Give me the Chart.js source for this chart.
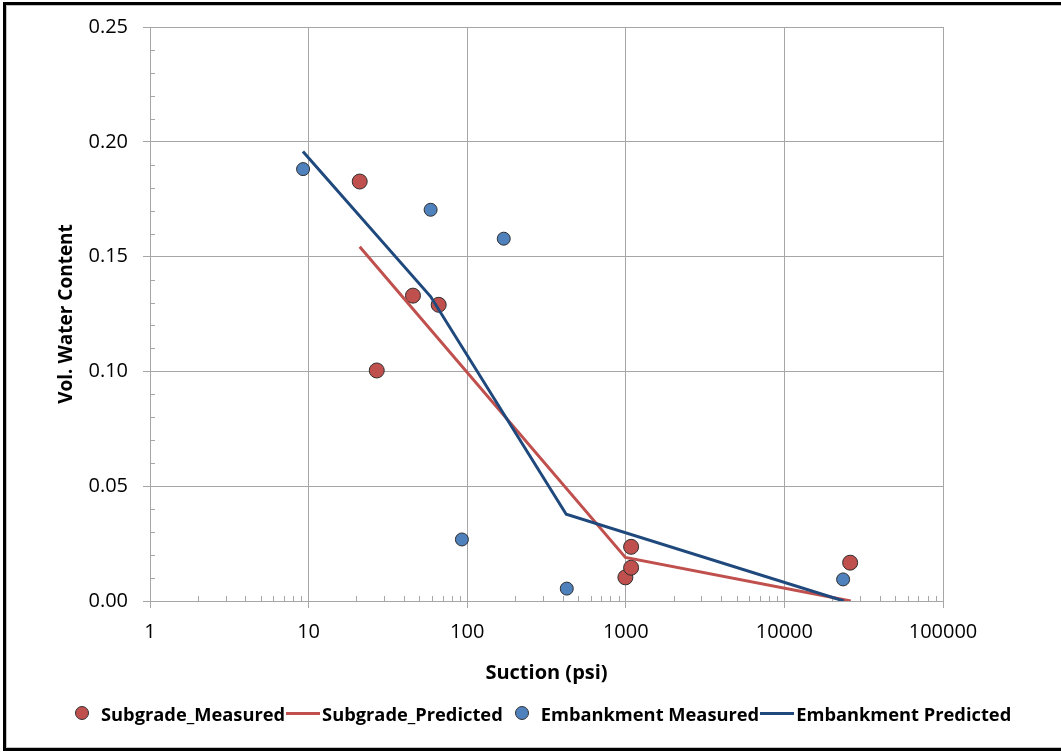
<!DOCTYPE html>
<html>
<head>
<meta charset="utf-8">
<title>Vol. Water Content vs Suction</title>
<script src="https://cdn.jsdelivr.net/npm/chart.js@4.4.1/dist/chart.umd.min.js"></script>
<style>
  html, body { margin: 0; padding: 0; background: #fff; overflow: hidden; }
  #wrap { position: relative; width: 1061px; height: 752px; overflow: hidden; font-family: "Open Sans", sans-serif; }
  #frame {
    position: absolute; left: 3px; top: 2px; width: 1100px; height: 749px;
    box-sizing: border-box; border: 3px solid #000; border-right: none;
    box-shadow: inset 1px 1px 0 #c4c4c4, inset 0 -1px 0 #c4c4c4;
  }
  #chart { position: absolute; left: 0; top: 0; }
  #legend {
    position: absolute; left: 75px; top: 700px; height: 26px;
    display: flex; align-items: center; white-space: nowrap;
    font-weight: bold; font-size: 18.3px; color: #000;
  }
  #legend .item { display: flex; align-items: center; }
  #legend .pt { margin-left: 12px; }
  #legend .pt:first-child { margin-left: 0; }
  #legend .dot { width: 14px; height: 14px; box-sizing: border-box; border-radius: 50%; border: 1px solid #333; margin-right: 12px; }
  #legend .ln { width: 34px; height: 3px; margin: 0 2px 0 1px; }
</style>
</head>
<body>
<div id="wrap">
<div id="frame"></div>
<canvas id="chart" width="1061" height="752"></canvas>
<div id="legend"></div>
</div>
<script>
// measured points (suction psi, vol. water content)
const subgradeSuction = [21.0, 26.9, 45.5, 66.1, 994, 1080, 1080, 25970];
const subgradeVwc = [0.1827, 0.1004, 0.1330, 0.1290, 0.0103, 0.0145, 0.0236, 0.0167];

const embankSuction = [9.23, 58.8, 170, 92.6, 424.5, 23450];
const embankVwc = [0.1881, 0.1704, 0.1578, 0.0268, 0.0054, 0.0094];

// predicted curves
const subgradePredSuction = [21.0, 994, 26200];
const subgradePredVwc = [0.1543, 0.0190, 0.0];

const embankPredSuction = [9.21, 58.8, 421, 23700];
const embankPredVwc = [0.1958, 0.1326, 0.0378, 0.0];

// axis ticks
const xTickValues = [1, 10, 100, 1000, 10000, 100000];
const yTickValues = [0, 0.05, 0.10, 0.15, 0.20, 0.25];

const RED = "#C0504D";
const BLUE = "#4F81BD";
const NAVY = "#1F497D";
const GRID = "#A6A6A6";

function toPoints(xs, ys) {
  return xs.map((v, i) => ({ x: v, y: ys[i] }));
}

// small inside ticks between the major ones
const minorTicks = {
  id: "minorTicks",
  beforeDatasetsDraw(chart) {
    const { ctx, scales: { x, y } } = chart;
    ctx.save();
    ctx.strokeStyle = GRID;
    ctx.lineWidth = 1;
    ctx.beginPath();
    for (let d = 1; d < 100000; d *= 10) {
      for (let k = 2; k < 10; k++) {
        const px = Math.round(x.getPixelForValue(k * d)) + 0.5;
        ctx.moveTo(px, y.bottom);
        ctx.lineTo(px, y.bottom - 5);
      }
    }
    for (let i = 1; i < 25; i++) {
      if (i % 5 === 0) continue;
      const py = Math.round(y.getPixelForValue(i / 100)) + 0.5;
      ctx.moveTo(x.left, py);
      ctx.lineTo(x.left + 5, py);
    }
    ctx.stroke();
    ctx.restore();
  },
};

Chart.defaults.font.family = "'Open Sans', sans-serif";
Chart.defaults.color = "#000";

const chart = new Chart(document.getElementById("chart"), {
  type: "scatter",
  data: {
    datasets: [
      {
        label: "Subgrade_Measured",
        data: toPoints(subgradeSuction, subgradeVwc),
        backgroundColor: RED,
        borderColor: "#2e2e2e",
        borderWidth: 1,
        pointRadius: 7.5,
        order: 4,
      },
      {
        label: "Subgrade_Predicted",
        data: toPoints(subgradePredSuction, subgradePredVwc),
        showLine: true,
        borderColor: RED,
        backgroundColor: RED,
        borderWidth: 3,
        pointRadius: 0,
        order: 3,
      },
      {
        label: "Embankment Measured",
        data: toPoints(embankSuction, embankVwc),
        backgroundColor: BLUE,
        borderColor: "#2e2e2e",
        borderWidth: 1,
        pointRadius: 6.5,
        order: 2,
      },
      {
        label: "Embankment Predicted",
        data: toPoints(embankPredSuction, embankPredVwc),
        showLine: true,
        borderColor: NAVY,
        backgroundColor: NAVY,
        borderWidth: 3,
        pointRadius: 0,
        order: 1,
      },
    ],
  },
  options: {
    responsive: false,
    animation: false,
    events: [],
    layout: { padding: { left: 0, top: 26, right: 118, bottom: 0 } },
    plugins: {
      legend: { display: false },
      tooltip: { enabled: false },
    },
    scales: {
      x: {
        type: "logarithmic",
        min: 1,
        max: 100000,
        afterBuildTicks: (s) => {
          s.ticks = xTickValues.map((v) => ({ value: v }));
        },
        afterFit: (s) => {
          s.height = 151;
        },
        ticks: {
          callback: (v) => String(v),
          font: { size: 20 },
          padding: 12,
          maxRotation: 0,
          autoSkip: false,
        },
        grid: { color: GRID, tickLength: 7 },
        border: { color: GRID },
        title: {
          display: true,
          text: "Suction (psi)",
          font: { size: 20, weight: "bold" },
          padding: { top: 0, bottom: 67 },
        },
      },
      y: {
        min: 0,
        max: 0.25,
        afterBuildTicks: (s) => {
          s.ticks = yTickValues.map((v) => ({ value: v }));
        },
        afterFit: (s) => {
          s.width = 150;
        },
        ticks: {
          callback: (v) => v.toFixed(2),
          font: { size: 20 },
          padding: 15,
        },
        grid: { color: GRID, tickLength: 7 },
        border: { color: GRID },
        title: {
          display: true,
          text: "Vol. Water Content",
          font: { size: 19, weight: "bold" },
          padding: { top: 55, bottom: 0 },
        },
      },
    },
  },
  plugins: [minorTicks],
});

// legend in the same order as the workbook
const legend = document.getElementById("legend");
chart.data.datasets.forEach((ds) => {
  const item = document.createElement("div");
  const mark = document.createElement("span");
  if (ds.showLine) {
    item.className = "item";
    mark.className = "ln";
    mark.style.background = ds.borderColor;
  } else {
    item.className = "item pt";
    mark.className = "dot";
    mark.style.background = ds.backgroundColor;
  }
  const txt = document.createElement("span");
  txt.textContent = ds.label;
  item.appendChild(mark);
  item.appendChild(txt);
  legend.appendChild(item);
});
</script>
</body>
</html>
